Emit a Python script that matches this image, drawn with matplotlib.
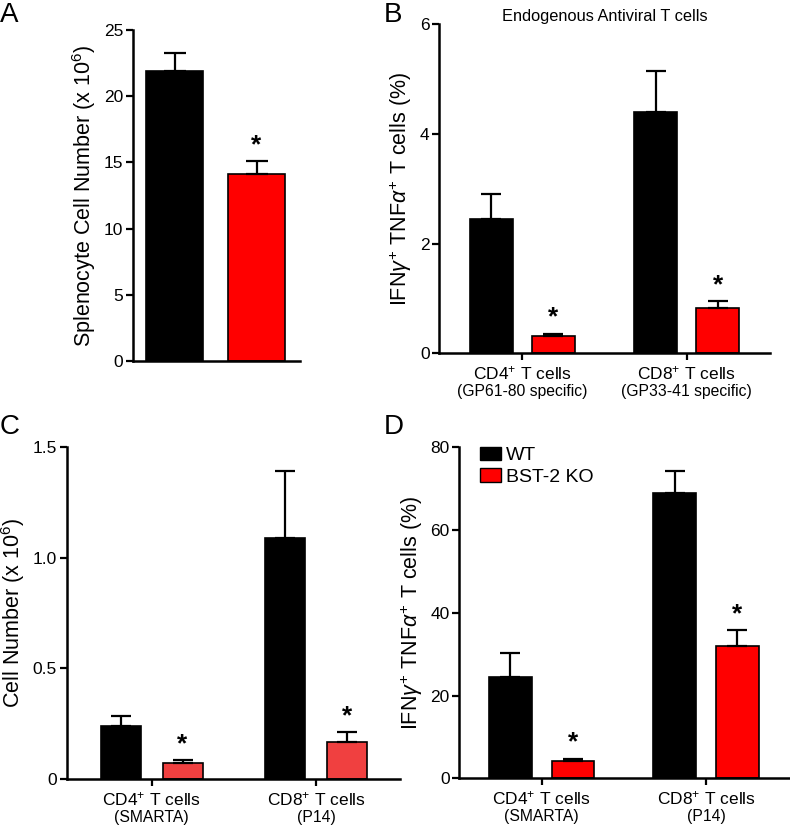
import numpy as np
import matplotlib
matplotlib.use('Agg')
import matplotlib.pyplot as plt
from matplotlib.patches import Patch

plt.rcParams['font.family'] = ['Liberation Sans', 'DejaVu Sans']
plt.rcParams['mathtext.fontset'] = 'custom'
plt.rcParams['mathtext.rm'] = 'Liberation Sans'
plt.rcParams['mathtext.it'] = 'Liberation Sans:italic'
plt.rcParams['mathtext.bf'] = 'Liberation Sans:bold'

# Datos
# A: splenocitos
a_groups = ['WT', 'BST-2 KO']
a_mean = [21.9, 14.1]
a_err = [1.4, 1.0]

# B: endogenous antiviral T cells
b_cats = ['CD4$^{+}$ T cells', 'CD8$^{+}$ T cells']
b_sub = ['(GP61-80 specific)', '(GP33-41 specific)']
b_wt = [2.45, 4.40]
b_wt_err = [0.45, 0.75]
b_ko = [0.32, 0.83]
b_ko_err = [0.04, 0.12]

# C: cell number
c_cats = ['CD4$^{+}$ T cells', 'CD8$^{+}$ T cells']
c_sub = ['(SMARTA)', '(P14)']
c_wt = [0.242, 1.09]
c_wt_err = [0.045, 0.30]
c_ko = [0.072, 0.170]
c_ko_err = [0.015, 0.042]

# D: IFNg+ TNFa+
d_cats = ['CD4$^{+}$ T cells', 'CD8$^{+}$ T cells']
d_sub = ['(SMARTA)', '(P14)']
d_wt = [24.6, 69.0]
d_wt_err = [5.8, 5.3]
d_ko = [4.2, 32.0]
d_ko_err = [0.5, 3.8]

ifn_label = r'IFN$\gamma^{+}$ TNF$\alpha^{+}$ T cells (%)'

fig = plt.figure(figsize=(7.9, 8.27), dpi=100)


def style(ax):
    for s in ['top', 'right']:
        ax.spines[s].set_visible(False)
    for s in ['left', 'bottom']:
        ax.spines[s].set_linewidth(1.8)
    ax.tick_params(axis='both', width=1.6, length=5, labelsize=12.5)
    ax.tick_params(axis='y', pad=2)


def star(ax, x, y, dy):
    ax.annotate('*', xy=(x, y), xytext=(0, dy), textcoords='offset points',
                ha='center', va='bottom', fontsize=19, fontweight='bold')


def grouped(ax, wt, wt_err, ko, ko_err, red, ylim, yticks, ylabels, cats, subs, off, w, xlim, dy):
    x = np.arange(len(wt))
    ax.bar(x - off, wt, w, color='black', edgecolor='black', linewidth=1.2,
           yerr=[np.zeros(len(wt)), wt_err], error_kw=dict(ecolor='black', elinewidth=1.6, capsize=7, capthick=1.6))
    ax.bar(x + off, ko, w, color=red, edgecolor='black', linewidth=1.2,
           yerr=[np.zeros(len(ko)), ko_err], error_kw=dict(ecolor='black', elinewidth=1.6, capsize=7, capthick=1.6))
    for i in range(len(ko)):
        star(ax, x[i] + off, ko[i] + ko_err[i], dy)
    ax.set_xlim(*xlim)
    ax.set_ylim(*ylim)
    ax.set_yticks(yticks)
    ax.set_yticklabels(ylabels)
    ax.set_xticks(x)
    ax.set_xticklabels(cats)
    style(ax)
    ax.tick_params(axis='x', pad=3, labelsize=12.5)
    for i in range(len(x)):
        ax.annotate(subs[i], xy=(x[i], 0), xycoords=('data', 'axes fraction'),
                    xytext=(0, -22), textcoords='offset points', ha='center', va='top', fontsize=11.3)


# A
axA = fig.add_axes([0.1684, 0.5635, 0.2114, 0.4002])
xa = np.arange(len(a_mean))
axA.bar(xa, a_mean, 0.69, color=['black', 'red'], edgecolor='black', linewidth=1.2,
        yerr=[np.zeros(2), a_err], error_kw=dict(ecolor='black', elinewidth=1.6, capsize=8, capthick=1.6))
star(axA, xa[1], a_mean[1] + a_err[1], 3)
axA.set_xlim(-0.506, 1.53)
axA.set_ylim(0, 25)
axA.set_yticks([0, 5, 10, 15, 20, 25])
axA.set_xticks([])
axA.set_ylabel('Splenocyte Cell Number (x 10$^{6}$)', fontsize=15.5, labelpad=4)
style(axA)

# B
axB = fig.add_axes([0.556, 0.5728, 0.4186, 0.398])
grouped(axB, b_wt, b_wt_err, b_ko, b_ko_err, 'red', (0, 6), [0, 2, 4, 6], ['0', '2', '4', '6'],
        b_cats, b_sub, 0.189, 0.26, (-0.505, 1.507), 3)
axB.set_ylabel(ifn_label, fontsize=15.5, labelpad=4)
axB.set_title('Endogenous Antiviral T cells', fontsize=11.8, pad=2)

# C
axC = fig.add_axes([0.0844, 0.0577, 0.4215, 0.4022])
grouped(axC, c_wt, c_wt_err, c_ko, c_ko_err, '#f04040', (0, 1.5), [0, 0.5, 1.0, 1.5], ['0', '0.5', '1.0', '1.5'],
        c_cats, c_sub, 0.188, 0.242, (-0.515, 1.505), 3)
axC.set_ylabel('Cell Number (x 10$^{6}$)', fontsize=15.5, labelpad=4)

# D
axD = fig.add_axes([0.5814, 0.0589, 0.4186, 0.4002])
grouped(axD, d_wt, d_wt_err, d_ko, d_ko_err, 'red', (0, 80), [0, 20, 40, 60, 80], ['0', '20', '40', '60', '80'],
        d_cats, d_sub, 0.19, 0.26, (-0.5015, 1.511), 3)
axD.set_ylabel(ifn_label, fontsize=15.5, labelpad=4)
handles = [Patch(facecolor='black', edgecolor='black'), Patch(facecolor='red', edgecolor='black')]
axD.legend(handles, ['WT', 'BST-2 KO'], loc='upper left', bbox_to_anchor=(0.04, 1.025), frameon=False,
           fontsize=14, handlelength=1.05, handleheight=0.7, handletextpad=0.25, labelspacing=0.2, borderaxespad=0)

# Letras de panel
fig.text(0.0, 0.997, 'A', fontsize=20, va='top', ha='left')
fig.text(0.486, 0.997, 'B', fontsize=20, va='top', ha='left')
fig.text(0.0, 0.499, 'C', fontsize=20, va='top', ha='left')
fig.text(0.486, 0.499, 'D', fontsize=20, va='top', ha='left')

plt.savefig('out.png', dpi=100)
